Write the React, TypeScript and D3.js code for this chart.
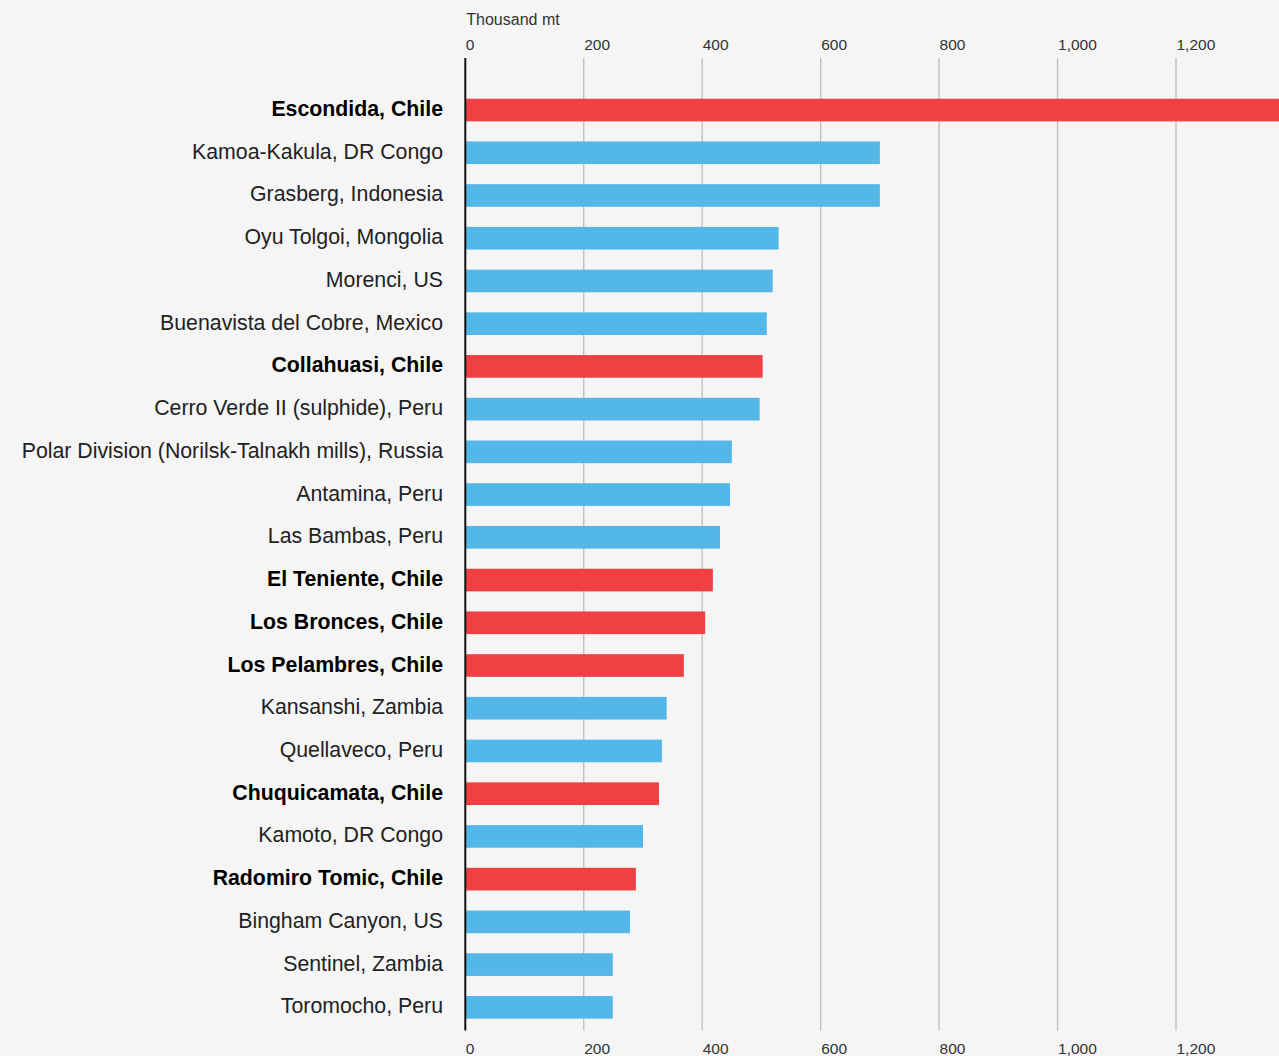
import React from "react";
import * as d3 from "d3";

const mines = [
  "Escondida, Chile",
  "Kamoa-Kakula, DR Congo",
  "Grasberg, Indonesia",
  "Oyu Tolgoi, Mongolia",
  "Morenci, US",
  "Buenavista del Cobre, Mexico",
  "Collahuasi, Chile",
  "Cerro Verde II (sulphide), Peru",
  "Polar Division (Norilsk-Talnakh mills), Russia",
  "Antamina, Peru",
  "Las Bambas, Peru",
  "El Teniente, Chile",
  "Los Bronces, Chile",
  "Los Pelambres, Chile",
  "Kansanshi, Zambia",
  "Quellaveco, Peru",
  "Chuquicamata, Chile",
  "Kamoto, DR Congo",
  "Radomiro Tomic, Chile",
  "Bingham Canyon, US",
  "Sentinel, Zambia",
  "Toromocho, Peru",
];

const capacity = [
  1380, 700, 700, 529, 519, 509, 502, 497, 450, 447, 430, 418, 405, 369, 340,
  332, 327, 300, 288, 278, 249, 249,
];

const isChile = mines.map((m) => m.endsWith("Chile"));

const xTicks = [0, 200, 400, 600, 800, 1000, 1200];
const unitLabel = "Thousand mt";

const W = 1279;
const H = 1056;
const FONT = "'Liberation Sans', Arial, Helvetica, sans-serif";

export default function App() {
  const x = d3.scaleLinear().domain([0, 1200]).range([465.3, 1176]);
  const y = d3
    .scaleBand<string>()
    .domain(mines)
    .range([88.66, 1028.7])
    .paddingInner(0.47)
    .paddingOuter(0.235);
  const fmt = d3.format(",");
  const x0 = x(0);
  const gridTop = 58;
  const gridBottom = 1030.5;

  return (
    <div style={{ position: "fixed", left: 0, top: 0, width: W, height: H, overflow: "hidden", background: "#f5f5f5" }}>
      <svg width={W} height={H} style={{ display: "block" }}>
        <rect x={0} y={0} width={W} height={H} fill="#f5f5f5" />
        {xTicks.map((t) => (
          <g key={"g" + t}>
            {t !== 0 && (
              <line x1={x(t)} x2={x(t)} y1={gridTop} y2={gridBottom} stroke="#bdbdbd" strokeWidth={1.3} />
            )}
            <text x={x(t) + 0.5} y={50} fontFamily={FONT} fontSize={15.5} fill="#333" textAnchor="start">
              {fmt(t)}
            </text>
            <text x={x(t) + 0.5} y={1054} fontFamily={FONT} fontSize={15.5} fill="#333" textAnchor="start">
              {fmt(t)}
            </text>
          </g>
        ))}
        <text x={x0 + 1} y={25} fontFamily={FONT} fontSize={16} fill="#333">
          {unitLabel}
        </text>
        {mines.map((m, i) => (
          <rect
            key={m}
            x={x0}
            y={y(m)}
            width={Math.max(0, x(capacity[i]) - x0)}
            height={y.bandwidth()}
            fill={isChile[i] ? "#ef4044" : "#53b7e8"}
          />
        ))}
        {mines.map((m, i) => (
          <text
            key={"l" + m}
            x={443}
            y={(y(m) as number) + y.bandwidth() / 2 + 6}
            textAnchor="end"
            fontFamily={FONT}
            fontSize={21.3}
            fontWeight={isChile[i] ? 700 : 400}
            fill={isChile[i] ? "#000" : "#222"}
          >
            {m}
          </text>
        ))}
        <line x1={x0} x2={x0} y1={gridTop} y2={gridBottom} stroke="#111" strokeWidth={2} />
      </svg>
    </div>
  );
}
